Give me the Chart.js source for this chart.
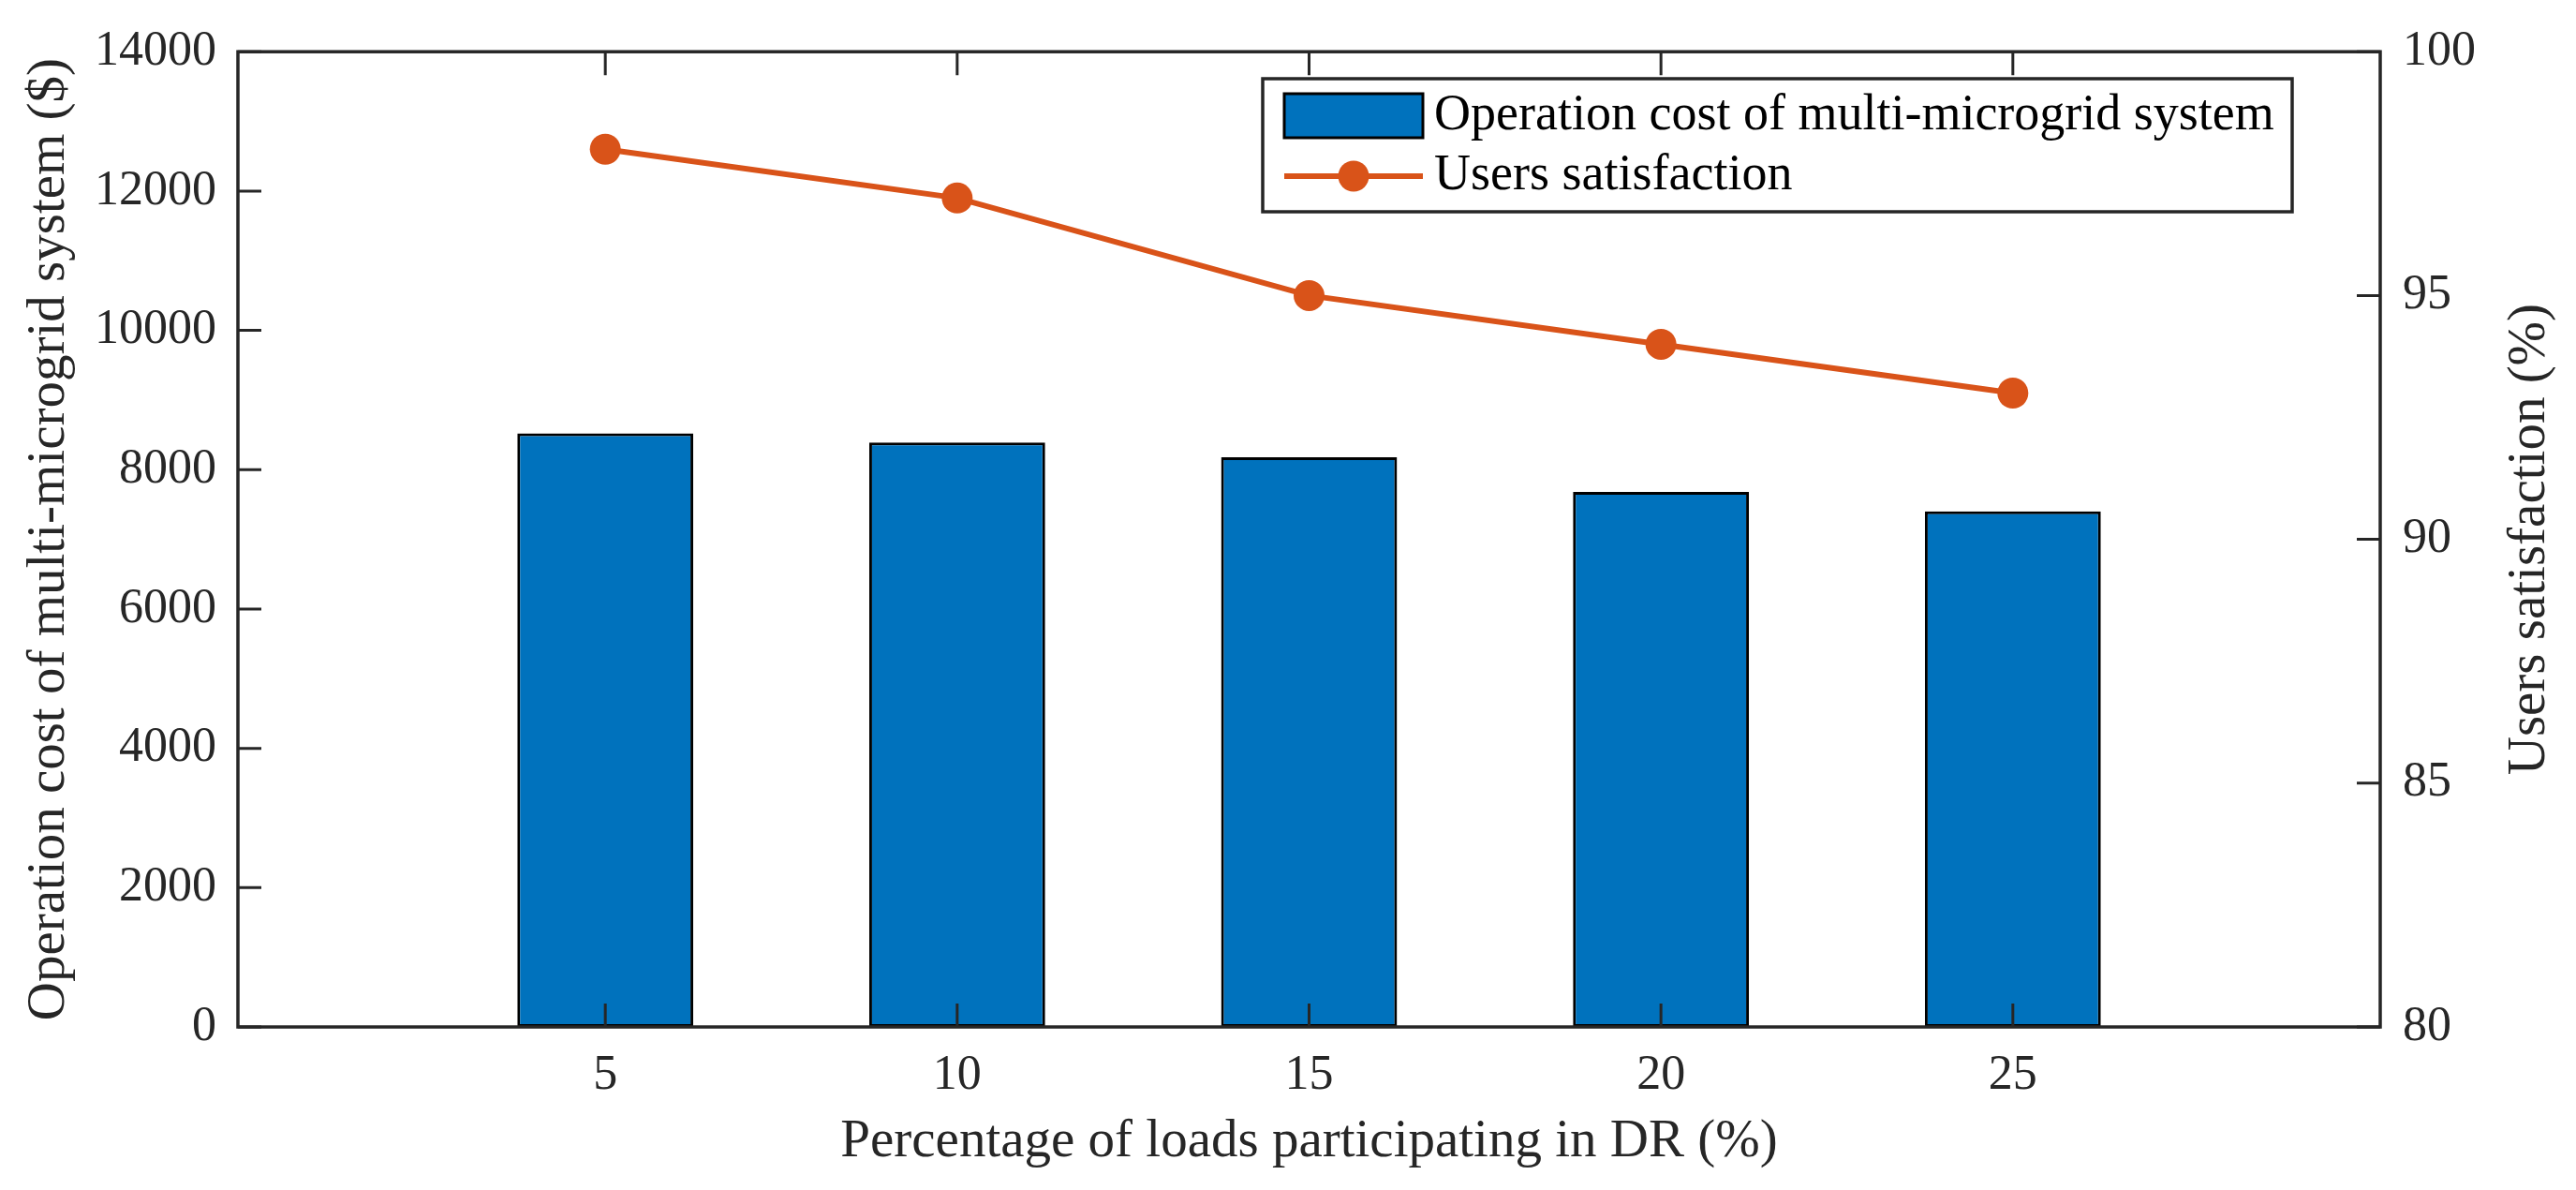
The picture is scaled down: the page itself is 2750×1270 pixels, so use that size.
<!DOCTYPE html>
<html>
  <head>
    <title>Operation cost and users satisfaction</title>
    <script src="https://cdn.jsdelivr.net/npm/chart.js"></script>
    <style>
      body { margin: 0; background: #fff; }
    </style>
  </head>
  <body>
    <canvas id="drChart" width="2750" height="1270"></canvas>

    <script>
      // values
      const drPercent = [5, 10, 15, 20, 25];
      const operationCost = [8520, 8390, 8180, 7680, 7400];
      const satisfaction = [98, 97, 95, 94, 93];

      const xTickValues = [5, 10, 15, 20, 25];
      const costTicks = [0, 2000, 4000, 6000, 8000, 10000, 12000, 14000];
      const satTicks = [80, 85, 90, 95, 100];

      const FONT = 'Liberation Serif, Times New Roman, serif';
      const AXIS = '#262626';
      const BLUE = '#0072BD';
      const ORANGE = '#D95319';

      const plainLabel = (v) => String(v);

      // box around the plot + inward tick marks (MATLAB style)
      const framePlugin = {
        id: 'frame',
        afterDatasetsDraw(chart) {
          const { ctx, chartArea: a, scales } = chart;
          const len = 25;
          ctx.save();
          ctx.strokeStyle = AXIS;
          ctx.lineWidth = 3;
          ctx.beginPath();
          scales.x.ticks.forEach((t) => {
            const px = scales.x.getPixelForValue(t.value);
            ctx.moveTo(px, a.bottom);
            ctx.lineTo(px, a.bottom - len);
            ctx.moveTo(px, a.top);
            ctx.lineTo(px, a.top + len);
          });
          scales.y.ticks.forEach((t) => {
            const py = scales.y.getPixelForValue(t.value);
            ctx.moveTo(a.left, py);
            ctx.lineTo(a.left + len, py);
          });
          scales.y1.ticks.forEach((t) => {
            const py = scales.y1.getPixelForValue(t.value);
            ctx.moveTo(a.right, py);
            ctx.lineTo(a.right - len, py);
          });
          ctx.stroke();
          ctx.lineWidth = 3.5;
          ctx.strokeRect(a.left, a.top, a.right - a.left, a.bottom - a.top);
          ctx.restore();
        },
        afterDraw(chart) {
          // right axis title reads bottom-to-top like MATLAB
          const { ctx, chartArea: a } = chart;
          ctx.save();
          ctx.translate(2701, (a.top + a.bottom) / 2);
          ctx.rotate(-Math.PI / 2);
          ctx.fillStyle = AXIS;
          ctx.font = '57px ' + FONT;
          ctx.textAlign = 'center';
          ctx.textBaseline = 'middle';
          ctx.fillText('Users satisfaction (%)', 0, 0);
          ctx.restore();
        },
      };

      // boxed legend inside the plot, upper right
      const boxLegend = {
        id: 'boxLegend',
        afterDraw(chart) {
          const { ctx } = chart;
          const ds = chart.data.datasets;
          const bx = 1348, by = 84, bw = 1099, bh = 142;
          ctx.save();
          ctx.fillStyle = '#fff';
          ctx.fillRect(bx, by, bw, bh);
          ctx.strokeStyle = AXIS;
          ctx.lineWidth = 3.5;
          ctx.strokeRect(bx, by, bw, bh);

          // bar entry
          ctx.fillStyle = ds[0].backgroundColor;
          ctx.fillRect(1371, 100, 148, 47);
          ctx.strokeStyle = ds[0].borderColor;
          ctx.lineWidth = 3;
          ctx.strokeRect(1371, 100, 148, 47);

          // line entry
          ctx.strokeStyle = ds[1].borderColor;
          ctx.lineWidth = ds[1].borderWidth;
          ctx.beginPath();
          ctx.moveTo(1371, 188);
          ctx.lineTo(1519, 188);
          ctx.stroke();
          ctx.fillStyle = ds[1].pointBackgroundColor;
          ctx.beginPath();
          ctx.arc(1445, 188, ds[1].pointRadius, 0, Math.PI * 2);
          ctx.fill();

          ctx.fillStyle = '#000';
          ctx.font = '54px ' + FONT;
          ctx.textBaseline = 'middle';
          ctx.fillText(ds[0].label, 1531, 124);
          ctx.fillText(ds[1].label, 1531, 188);
          ctx.restore();
        },
      };

      const ctx = document.getElementById('drChart').getContext('2d');
      const chart = new Chart(ctx, {
        type: 'bar',
        data: {
          datasets: [
            {
              type: 'bar',
              label: 'Operation cost of multi-microgrid system',
              data: drPercent.map((x, i) => ({ x: x, y: operationCost[i] })),
              yAxisID: 'y',
              backgroundColor: BLUE,
              borderColor: '#000',
              borderWidth: 3,
              borderSkipped: false,
              categoryPercentage: 1.0,
              barPercentage: 0.5,
              order: 2,
            },
            {
              type: 'line',
              label: 'Users satisfaction',
              data: drPercent.map((x, i) => ({ x: x, y: satisfaction[i] })),
              yAxisID: 'y1',
              borderColor: ORANGE,
              backgroundColor: ORANGE,
              borderWidth: 6,
              pointRadius: 16.5,
              pointBackgroundColor: ORANGE,
              pointBorderWidth: 0,
              tension: 0,
              order: 1,
            },
          ],
        },
        options: {
          responsive: false,
          devicePixelRatio: 1,
          animation: false,
          layout: { padding: { top: 49, left: 0, right: 0, bottom: 0 } },
          plugins: {
            legend: { display: false },
            tooltip: { enabled: false },
          },
          scales: {
            x: {
              type: 'linear',
              offset: false,
              min: -0.22,
              max: 30.22,
              grid: { display: false, drawTicks: false, offset: false },
              border: { display: false },
              afterBuildTicks: (s) => {
                s.ticks = xTickValues.map((v) => ({ value: v }));
              },
              afterFit: (s) => {
                s.height = 174;
              },
              ticks: {
                padding: 21,
                color: AXIS,
                font: { family: FONT, size: 52 },
                callback: plainLabel,
              },
              title: {
                display: true,
                text: 'Percentage of loads participating in DR (%)',
                color: AXIS,
                font: { family: FONT, size: 57 },
                padding: { top: 0, bottom: 17 },
              },
            },
            y: {
              position: 'left',
              min: 0,
              max: 14000,
              grid: { display: false, drawTicks: false },
              border: { display: false },
              afterBuildTicks: (s) => {
                s.ticks = costTicks.map((v) => ({ value: v }));
              },
              afterFit: (s) => {
                s.width = 254;
              },
              ticks: {
                padding: 23,
                color: AXIS,
                font: { family: FONT, size: 52 },
                callback: plainLabel,
              },
              title: {
                display: true,
                text: 'Operation cost of multi-microgrid system ($)',
                color: AXIS,
                font: { family: FONT, size: 57 },
                padding: { top: 19, bottom: 0 },
              },
            },
            y1: {
              position: 'right',
              min: 80,
              max: 100,
              grid: { display: false, drawTicks: false },
              border: { display: false },
              afterBuildTicks: (s) => {
                s.ticks = satTicks.map((v) => ({ value: v }));
              },
              afterFit: (s) => {
                s.width = 209;
              },
              ticks: {
                padding: 24,
                color: AXIS,
                font: { family: FONT, size: 52 },
                callback: plainLabel,
              },
            },
          },
        },
        plugins: [framePlugin, boxLegend],
      });
    </script>
  </body>
</html>
